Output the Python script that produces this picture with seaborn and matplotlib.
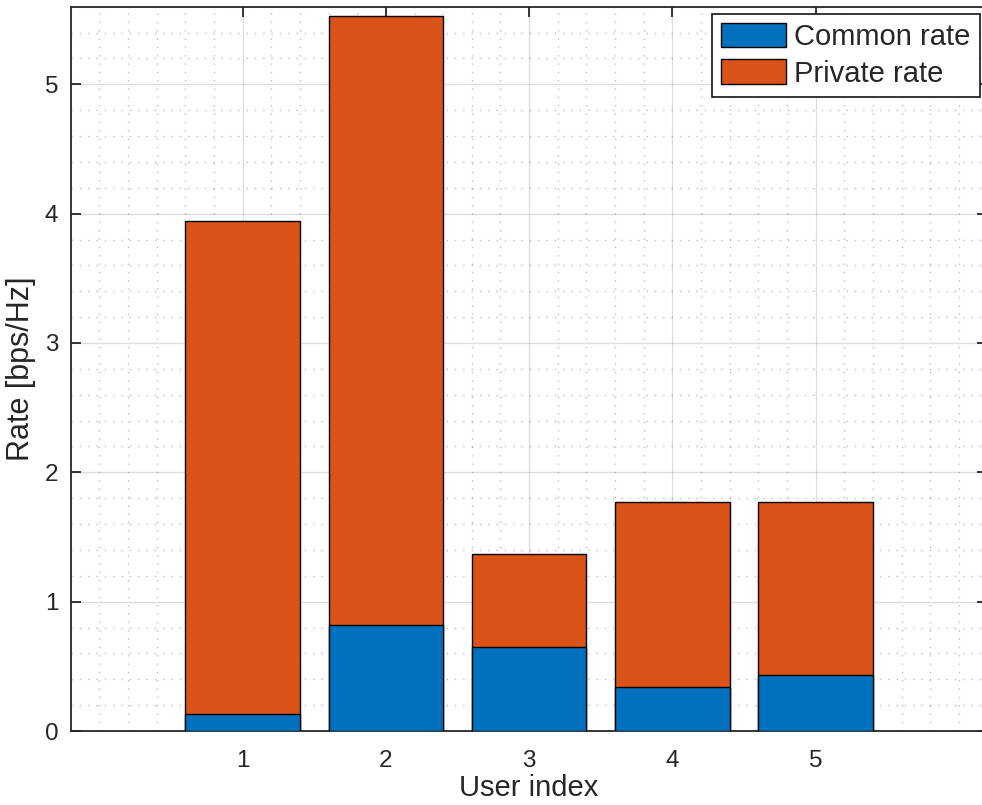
import matplotlib
matplotlib.use("Agg")
import matplotlib.pyplot as plt
from matplotlib.ticker import MultipleLocator
import pandas as pd
import seaborn as sns

# Rate split per user
users = [1, 2, 3, 4, 5]
common_rate = [0.13, 0.82, 0.65, 0.34, 0.43]
private_rate = [3.81, 4.71, 0.72, 1.43, 1.34]
series_labels = ["Common rate", "Private rate"]
x_label = "User index"
y_label = "Rate [bps/Hz]"

blue = "#0072BD"
orange = "#D95319"
axis_grey = "#262626"

sns.set_theme(style="white")
plt.rcParams["font.family"] = ["Liberation Sans", "DejaVu Sans"]

df = pd.DataFrame({
    "user": users,
    "common": common_rate,
    "private": private_rate,
})
df["total"] = df["common"] + df["private"]

fig = plt.figure(figsize=(9.82, 8.05), dpi=100)
ax = fig.add_axes([0.072, 0.0919, 0.9336, 0.8998])

# stacked bars: full height in orange, common part drawn over it in blue
sns.barplot(data=df, x="user", y="total", native_scale=True, width=0.8,
            color=orange, saturation=1, edgecolor="black", linewidth=1.0,
            label=series_labels[1], ax=ax, zorder=3)
sns.barplot(data=df, x="user", y="common", native_scale=True, width=0.8,
            color=blue, saturation=1, edgecolor="black", linewidth=1.0,
            label=series_labels[0], ax=ax, zorder=3)

ax.set_xlim(-0.2, 6.2)
ax.set_ylim(0, 5.6)
ax.xaxis.set_minor_locator(MultipleLocator(0.2))
ax.yaxis.set_major_locator(MultipleLocator(1))
ax.yaxis.set_minor_locator(MultipleLocator(0.2))
ax.set_xticks(users)
ax.set_xticklabels([str(u) for u in users])

ax.grid(True, which="major", color=axis_grey, alpha=0.15, linewidth=1.0, linestyle="-", zorder=0)
ax.grid(True, which="minor", color=axis_grey, alpha=0.3, linewidth=1.0, linestyle=(0, (1, 5)), zorder=0)
ax.set_axisbelow(True)

for side in ["left", "right", "top", "bottom"]:
    ax.spines[side].set_visible(True)
    ax.spines[side].set_color(axis_grey)
    ax.spines[side].set_linewidth(1.3)

ax.tick_params(which="major", direction="in", length=7.5, width=1.3, color=axis_grey,
               labelsize=17.5, labelcolor=axis_grey, top=True, right=True, bottom=True, left=True)
ax.tick_params(axis="x", which="major", pad=14)
ax.tick_params(axis="y", which="major", pad=9)
ax.tick_params(which="minor", length=0)

ax.set_xlabel(x_label, fontsize=21, color=axis_grey, labelpad=1)
ax.set_ylabel(y_label, fontsize=22, color=axis_grey, labelpad=6)

handles, labels = ax.get_legend_handles_labels()
order = [labels.index(series_labels[0]), labels.index(series_labels[1])]
leg = ax.legend([handles[i] for i in order], [labels[i] for i in order],
                loc="upper right", bbox_to_anchor=(0.998, 0.983), bbox_transform=fig.transFigure,
                borderaxespad=0, fontsize=21, frameon=True, fancybox=False,
                handlelength=2.2, handleheight=0.9, handletextpad=0.3,
                labelspacing=0.28, borderpad=0.32)
leg.get_frame().set_edgecolor(axis_grey)
leg.get_frame().set_linewidth(1.3)
leg.get_frame().set_alpha(1)

fig.savefig("out.png", dpi=100)
